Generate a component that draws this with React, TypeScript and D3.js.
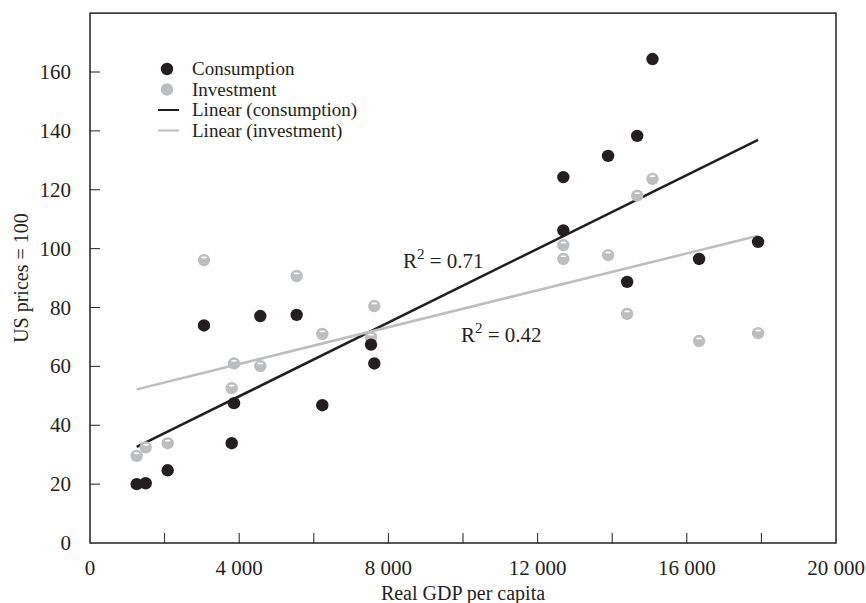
import * as d3 from 'd3'
import React, { useEffect, useRef } from 'react'

// GDP per capita of each country (x), shared by both series
const gdp = [1252, 1493, 2083, 3056, 3861, 3799, 4566, 5541, 6228, 7534, 7622, 12690, 12690, 13890, 14670, 14400, 15080, 16330, 17910]
const consumption = [20.0, 20.3, 24.7, 73.9, 47.5, 33.9, 77.1, 77.5, 46.8, 67.4, 61.0, 124.3, 106.2, 131.5, 138.3, 88.7, 164.4, 96.5, 102.3]
const investment = [29.6, 32.5, 33.9, 96.1, 61.0, 52.6, 60.1, 90.7, 71.0, 69.9, 80.5, 101.2, 96.5, 97.8, 118.0, 77.8, 123.7, 68.6, 71.3]
const xTicks = [2000, 4000, 6000, 8000, 10000, 12000, 14000, 16000, 18000]
const xLabels = [0, 4000, 8000, 12000, 16000, 20000]
const yTicks = [0, 20, 40, 60, 80, 100, 120, 140, 160]
const legendItems = ['Consumption', 'Investment', 'Linear (consumption)', 'Linear (investment)']
const r2Labels = ['0.71', '0.42']

const DARK = '#231f20'
const GREY = '#bcbec0'

function fit(xs: number[], ys: number[]) {
  const mx = d3.mean(xs) as number
  const my = d3.mean(ys) as number
  let sxy = 0, sxx = 0
  xs.forEach((x, i) => {
    sxy += (x - mx) * (ys[i] - my)
    sxx += (x - mx) * (x - mx)
  })
  const slope = sxy / sxx
  return (x: number) => my + slope * (x - mx)
}

export default function App() {
  const svgRef = useRef<SVGSVGElement>(null)

  useEffect(() => {
    document.body.style.margin = '0'
    if (!svgRef.current) return
    const width = 866
    const height = 603
    const font = '"Liberation Serif", "Times New Roman", serif'

    const svg = d3.select(svgRef.current)
    svg.selectAll('*').remove()
    svg.attr('width', width).attr('height', height)

    const x = d3.scaleLinear().domain([0, 20000]).range([90, 836])
    const y = d3.scaleLinear().domain([0, 160]).range([543, 72])
    const fmt = d3.formatLocale({ decimal: '.', thousands: ' ', grouping: [3], currency: ['', ''] }).format(',')

    const top = y(180)

    // frame
    svg.append('rect')
      .attr('x', x(0)).attr('y', top)
      .attr('width', x(20000) - x(0)).attr('height', y(0) - top)
      .attr('fill', 'none').attr('stroke', DARK).attr('stroke-width', 1.5)

    // inward ticks
    svg.append('g').selectAll('line').data(xTicks).enter().append('line')
      .attr('x1', d => x(d)).attr('x2', d => x(d))
      .attr('y1', y(0)).attr('y2', y(0) - 10)
      .attr('stroke', DARK).attr('stroke-width', 1)
    svg.append('g').selectAll('line').data(yTicks.slice(1)).enter().append('line')
      .attr('x1', x(0)).attr('x2', x(0) + 10)
      .attr('y1', d => y(d)).attr('y2', d => y(d))
      .attr('stroke', DARK).attr('stroke-width', 1)

    svg.append('g').selectAll('text').data(xLabels).enter().append('text')
      .attr('x', d => x(d)).attr('y', 575)
      .attr('text-anchor', 'middle')
      .attr('font-family', font).attr('font-size', 21).attr('fill', DARK)
      .text(d => fmt(d))
    svg.append('g').selectAll('text').data(yTicks).enter().append('text')
      .attr('x', 71).attr('y', d => y(d) + 7)
      .attr('text-anchor', 'end')
      .attr('font-family', font).attr('font-size', 21).attr('fill', DARK)
      .text(d => d)

    svg.append('text')
      .attr('x', (x(0) + x(20000)) / 2).attr('y', 600)
      .attr('text-anchor', 'middle')
      .attr('font-family', font).attr('font-size', 20).attr('fill', DARK)
      .text('Real GDP per capita')
    svg.append('text')
      .attr('transform', `translate(28,${(y(0) + top) / 2}) rotate(-90)`)
      .attr('text-anchor', 'middle')
      .attr('font-family', font).attr('font-size', 20).attr('fill', DARK)
      .text('US prices = 100')

    // trend lines
    const x0 = d3.min(gdp) as number
    const x1 = d3.max(gdp) as number
    const series = [
      { values: consumption, color: DARK },
      { values: investment, color: GREY }
    ]
    series.forEach(s => {
      const f = fit(gdp, s.values)
      svg.append('line')
        .attr('x1', x(x0)).attr('y1', y(f(x0)))
        .attr('x2', x(x1)).attr('y2', y(f(x1)))
        .attr('stroke', s.color).attr('stroke-width', 2.5)
    })

    // points
    const pts = svg.append('g')
    series.slice().reverse().forEach(s => {
      const g = pts.append('g')
      g.selectAll('circle').data(s.values).enter().append('circle')
        .attr('cx', (d, i) => x(gdp[i])).attr('cy', d => y(d))
        .attr('r', 6.2).attr('fill', s.color)
      if (s.color === GREY) {
        g.selectAll('ellipse').data(s.values).enter().append('ellipse')
          .attr('cx', (d, i) => x(gdp[i])).attr('cy', d => y(d) - 2.6)
          .attr('rx', 3).attr('ry', 0.9).attr('fill', '#fff')
      }
    })

    // R² labels
    const r2Pos = [[403, 268], [461, 342]]
    r2Labels.forEach((t, i) => {
      const txt = svg.append('text')
        .attr('x', r2Pos[i][0]).attr('y', r2Pos[i][1])
        .attr('font-family', font).attr('font-size', 21).attr('fill', DARK)
      txt.append('tspan').text('R')
      txt.append('tspan').attr('dy', -9).attr('font-size', 15).text('2')
      txt.append('tspan').attr('dy', 9).text(` = ${t}`)
    })

    // legend
    const lg = svg.append('g').attr('transform', 'translate(167,69)')
    legendItems.forEach((t, i) => {
      const row = lg.append('g').attr('transform', `translate(0,${i * 20.5})`)
      const c = i % 2 === 0 ? DARK : GREY
      if (i < 2) {
        row.append('circle').attr('r', 6.2).attr('fill', c)
      } else {
        row.append('line').attr('x1', -9).attr('x2', 12)
          .attr('stroke', c).attr('stroke-width', 2)
      }
      row.append('text').attr('x', 25).attr('y', 6)
        .attr('font-family', font).attr('font-size', 19).attr('fill', DARK)
        .text(t)
    })
  }, [])

  return <svg ref={svgRef} role="img" aria-label="Price levels vs real GDP per capita" />
}
